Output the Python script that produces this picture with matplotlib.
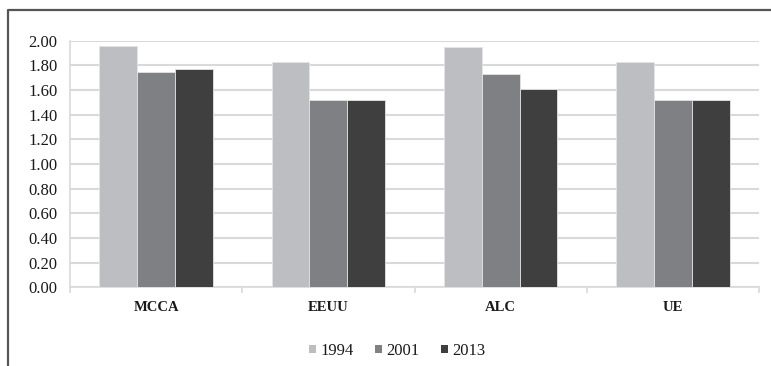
import matplotlib
matplotlib.use("Agg")
import matplotlib.pyplot as plt
from matplotlib.lines import Line2D
from matplotlib.patches import Patch
import numpy as np

categories = ["MCCA", "EEUU", "ALC", "UE"]
series_names = ["1994", "2001", "2013"]
values_1994 = [1.96, 1.83, 1.95, 1.83]
values_2001 = [1.75, 1.52, 1.73, 1.52]
values_2013 = [1.77, 1.52, 1.61, 1.52]
yticks = [0.0, 0.2, 0.4, 0.6, 0.8, 1.0, 1.2, 1.4, 1.6, 1.8, 2.0]

colors = ["#BDBEC2", "#7F8084", "#3F3F3F"]
W, H = 771, 366
fig = plt.figure(figsize=(W / 100, H / 100), dpi=100)
ax = fig.add_axes([70 / W, 1 - 287.3 / H, (759 - 70) / W, (287.3 - 40.7) / H])

x = np.arange(len(categories))
bw = 0.22
all_vals = [values_1994, values_2001, values_2013]
for i, (vals, c, name) in enumerate(zip(all_vals, colors, series_names)):
    ax.bar(x + (i - 1) * bw, vals, width=bw, color=c, edgecolor="#E4E4E6",
           linewidth=0.6, label=name, zorder=3)

ax.set_xlim(-0.5, len(categories) - 0.5)
ax.set_ylim(0, 2.0)
ax.set_yticks(yticks)
ax.set_yticklabels([f"{v:.2f}" for v in yticks])
ax.yaxis.grid(True, color="#D9D9D9", linewidth=1.5, zorder=0)
ax.set_axisbelow(True)
for s in ["top", "right"]:
    ax.spines[s].set_visible(False)
ax.spines["left"].set_color("#D9D9D9")
ax.spines["left"].set_linewidth(1.2)
ax.spines["bottom"].set_color("#D9D9D9")
ax.spines["bottom"].set_linewidth(1.2)
ax.tick_params(axis="y", length=0, pad=9, labelsize=12, labelcolor="#1a1a1a")
ax.set_xticks(x)
ax.set_xticklabels(categories, fontweight="bold", fontsize=10.5, color="#1a1a1a")
ax.tick_params(axis="x", length=0, pad=10)
# minor ticks at category boundaries
ax.set_xticks(np.arange(-0.5, len(categories)), minor=True)
ax.tick_params(axis="x", which="minor", length=4, color="#D9D9D9", width=1.2)
for lab in ax.get_yticklabels():
    lab.set_family("Liberation Serif")
for lab in ax.get_xticklabels():
    lab.set_family("Liberation Serif")

handles = [Patch(facecolor=c, edgecolor="none") for c in colors]
leg = fig.legend(handles, series_names, loc="center", bbox_to_anchor=(397.5 / W, 1 - 351 / H),
                 ncol=3, frameon=False, handlelength=0.42, handleheight=0.42,
                 handletextpad=0.25, columnspacing=1.3, borderpad=0, borderaxespad=0,
                 prop={"family": "Liberation Serif", "size": 12})
for t in leg.get_texts():
    t.set_color("#1a1a1a")

# figure border (left and top)
fig.add_artist(Line2D([7.5 / W, 7.5 / W, 1.0], [0.0, 1 - 9.5 / H, 1 - 9.5 / H],
                      transform=fig.transFigure, color="#555555", linewidth=1.6))

fig.savefig("out.png", dpi=100)
